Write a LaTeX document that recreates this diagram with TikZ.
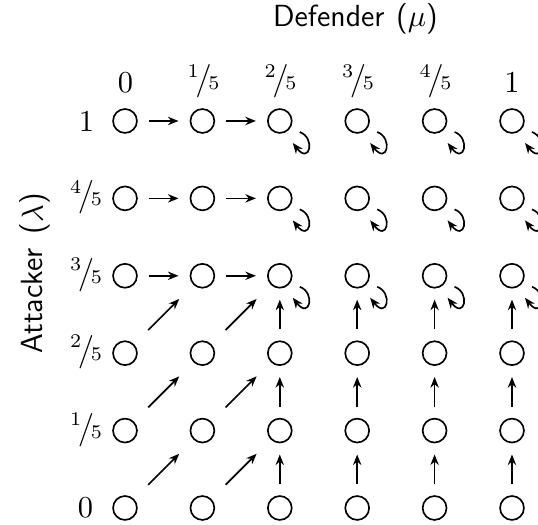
\documentclass[tikz,border=0pt]{standalone}
\usetikzlibrary{arrows.meta,calc}
\newcommand\myfr[2]{\raisebox{4.6pt}{\fontsize{7}{8}\selectfont$#1$}\kern-1.2pt{\fontsize{12.5}{14}\selectfont$/$}\kern-1.2pt{\fontsize{7}{8}\selectfont$#2$}}
\begin{document}
\begin{tikzpicture}[x=0.36pt,y=-0.36pt,
  st/.style={circle,draw,line width=0.6pt,minimum size=8.6pt,inner sep=0pt},
  arr/.style={line width=0.6pt,-{Stealth[length=3.8pt,width=3pt]}},
  hv/.style={arr,shorten <=4pt,shorten >=4pt},
  dg/.style={arr,shorten <=7.2pt,shorten >=7.2pt},
  lab/.style={inner sep=0pt,anchor=base,font=\fontsize{11}{13}\selectfont},
  ttl/.style={inner sep=0pt,anchor=base,font=\fontsize{11}{13}\selectfont\sffamily}]
\useasboundingbox (0,0) rectangle (538,525);
\foreach \i in {0,...,5}{
  \foreach \j in {0,...,5}{
    \node[st] (n\i\j) at ({125+77.4*\i},{508-77.4*\j}) {};
  }
}
% column labels
\node[lab] (c0) at (125.5,93) {$0$};
\node[lab] (c1) at (203.5,90) {\myfr{1}{5}};
\node[lab] (c2) at (280.5,90) {\myfr{2}{5}};
\node[lab] (c3) at (358,90) {\myfr{3}{5}};
\node[lab] (c4) at (435.5,90) {\myfr{4}{5}};
\node[lab] (c5) at (512,93) {$1$};
% row labels
\node[lab] (r5) at (86.5,{508-77.4*5+11}) {$1$};
\node[lab] (r4) at (86,{508-77.4*4+7.5}) {\myfr{4}{5}};
\node[lab] (r3) at (86,{508-77.4*3+7.5}) {\myfr{3}{5}};
\node[lab] (r2) at (86,{508-77.4*2+7.5}) {\myfr{2}{5}};
\node[lab] (r1) at (86,{508-77.4*1+7.5}) {\myfr{1}{5}};
\node[lab] (r0) at (85.5,{508+10}) {$0$};
% axis titles
\node[ttl] (def) at (355.5,27) {Defender\hspace{0.6pt} ($\mu$)};
\node[ttl,rotate=90] (att) at (43,273.5) {Attacker\hspace{1.5pt} ($\lambda$)};
% horizontal arrows
\foreach \j in {3,4,5}{
  \draw[hv] (n0\j) -- (n1\j);
  \draw[hv] (n1\j) -- (n2\j);
}
% diagonal arrows
\foreach \j [evaluate=\j as \k using int(\j+1)] in {0,1,2}{
  \draw[dg] (n0\j) -- (n1\k);
  \draw[dg] (n1\j) -- (n2\k);
}
% vertical arrows
\foreach \i in {2,...,5}{
  \foreach \j [evaluate=\j as \k using int(\j+1)] in {0,1,2}{
    \draw[hv] (n\i\j) -- (n\i\k);
  }
}
% self loops
\foreach \i in {2,...,5}{
  \foreach \j in {3,4,5}{
    \draw[arr] ([shift={(20,11)}]n\i\j.center) .. controls ([shift={(36,17)}]n\i\j.center) and ([shift={(30,44)}]n\i\j.center) .. ([shift={(13,22)}]n\i\j.center);
  }
}
\end{tikzpicture}
\end{document}
